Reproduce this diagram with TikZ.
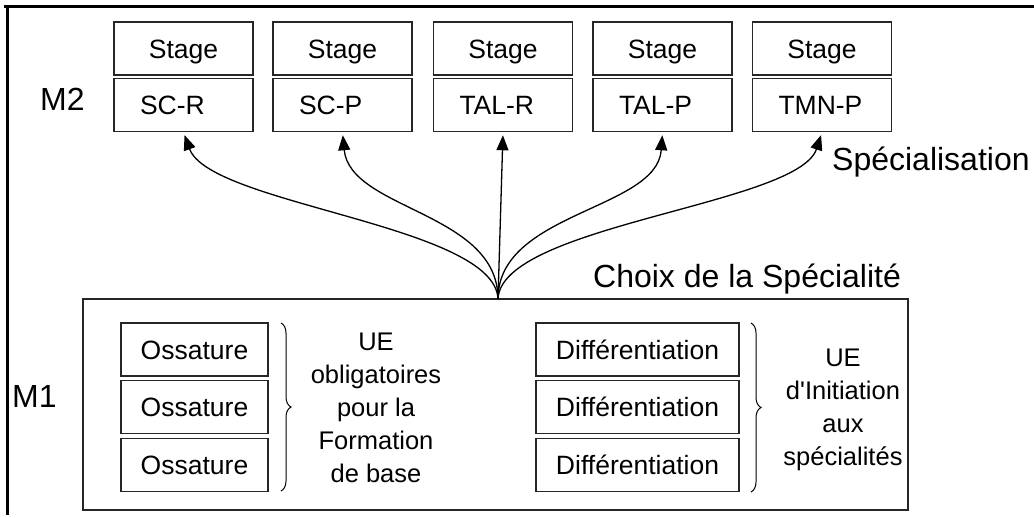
\documentclass[tikz,border=0pt]{standalone}
\usepackage{fontspec}
\setmainfont{Liberation Sans}
\usetikzlibrary{arrows.meta,decorations.pathreplacing}
\begin{document}
\begin{tikzpicture}[x=1pt,y=-1pt,
  box/.style={draw=black!85, line width=1.5pt, inner sep=0pt, minimum height=53pt,
    font=\fontsize{26.5}{30}\selectfont, text height=19pt, text depth=0pt},
  stagebox/.style={box, minimum width=139pt},
  specbox/.style={box, inner xsep=26pt, text width=87pt, align=left},
  osbox/.style={box, minimum width=147pt},
  difbox/.style={box, minimum width=203pt},
  link/.style={line width=1.3pt, -{Triangle[length=15pt,width=12pt]}, shorten >=3pt},
  brace/.style={decorate, decoration={brace, amplitude=10pt}, line width=1pt},
  lab/.style={font=\fontsize{32}{36}\selectfont, inner sep=0pt, anchor=base west},
  ue/.style={font=\fontsize{25.5}{33}\selectfont, align=center, inner sep=0pt}]
\useasboundingbox (0,0) rectangle (1034,517);

% frame
\draw[line width=2.7pt] (4,6.5) -- (1034,6.5);
\draw[line width=2.7pt] (7.3,5.2) -- (7.3,515);

% M2: internships and specialities
\node[lab] (m2lab) at (40,110) {M2};
\foreach \i/\x/\t in {1/183.5/SC-R, 2/342.5/SC-P, 3/503/TAL-R, 4/662.5/TAL-P, 5/822/TMN-P}{
  \node[stagebox] (st\i) at (\x,48.5) {Stage};
  \node[specbox] (sp\i) at (\x,105) {\t};
}
\node[lab] (spelab) at (832,170) {Spécialisation};

% M1 block
\node[draw=black!85, line width=1.7pt, minimum width=825pt, minimum height=211pt, inner sep=0pt]
  (m1) at (495.5,404.5) {};
\node[lab] (m1lab) at (12,407) {M1};
\node[lab] (choix) at (593,287) {Choix de la Spécialité};

\foreach \i/\y in {1/349.5, 2/407, 3/465}{
  \node[osbox] (os\i) at (194.5,\y) {Ossature};
  \node[difbox] (df\i) at (637.5,\y) {Différentiation};
}
\draw[brace] (281,323) -- (281,491);
\draw[brace] (751,323) -- (751,492);
\node[ue] (ue1) at (376,408) {UE\\obligatoires\\pour la\\Formation\\de base};
\node[ue] (ue2) at (843,410) {UE\\d\textquotesingle Initiation\\aux\\spécialités};

% choice of speciality
\coordinate (src) at (498,299);
\draw[link] (src) .. controls (495,225) and (210,205) .. (sp1.south);
\draw[link] (src) .. controls (498,212) and (350,210) .. (sp2.south);
\draw[link] (src) -- (sp3.south);
\draw[link] (src) .. controls (498,212) and (657,210) .. (sp4.south);
\draw[link] (src) .. controls (501,225) and (798,205) .. (sp5.south);
\end{tikzpicture}
\end{document}
